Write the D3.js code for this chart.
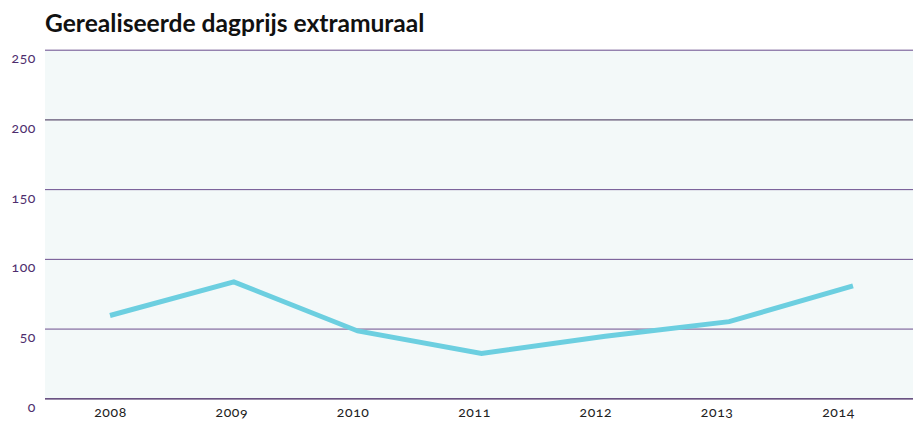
<!DOCTYPE html>
<html>
<head>
<meta charset="utf-8">
<script src="https://cdn.jsdelivr.net/npm/d3@7"></script>
<style>
  html, body { margin: 0; padding: 0; background: #fff; }
  svg { display: block; }
  .num { font-variant-numeric: oldstyle-nums; font-feature-settings: "onum" 1; }
</style>
</head>
<body>
<svg id="chart" width="913" height="421"></svg>
<script>
const title = "Gerealiseerde dagprijs extramuraal";
const years = ["2008", "2009", "2010", "2011", "2012", "2013", "2014"];
const values = [59.4, 83.5, 48.3, 32.1, 44.5, 55, 80.6];
const yTicks = [0, 50, 100, 150, 200, 250];

const W = 913, H = 421;
const plot = { left: 45, right: 913, top: 49.7, bottom: 398.3 };

const svg = d3.select("#chart");

const y = d3.scaleLinear().domain([0, 250]).range([plot.bottom, plot.top]);
const xLine = d3.scalePoint().domain(years).range([110, 853]);
const xLabel = d3.scalePoint().domain(years).range([110, 838]);

// plot background
svg.append("rect")
  .attr("x", plot.left).attr("y", plot.top)
  .attr("width", plot.right - plot.left).attr("height", plot.bottom - plot.top)
  .attr("fill", "#f3f9f9");

// title
svg.append("text")
  .attr("x", 45).attr("y", 32)
  .attr("font-family", "Lato, 'Open Sans', sans-serif")
  .attr("font-weight", "bold")
  .attr("font-size", 24.6)
  .attr("fill", "#111")
  .text(title);

// grid lines via axis
const yAxis = d3.axisLeft(y).tickValues(yTicks).tickSize(-(plot.right - plot.left)).tickFormat(d3.format("d"));
const gy = svg.append("g").attr("transform", `translate(${plot.left},0)`).call(yAxis);
gy.select(".domain").remove();
gy.selectAll(".tick line")
  .attr("stroke", d => d === 0 ? "#3a1a5a" : (d === 200 ? "#3b2a52" : "#6b4e8e"))
  .attr("stroke-width", d => d === 0 ? 1.2 : 1);
gy.selectAll(".tick text")
  .attr("class", "num")
  .attr("x", -9).attr("y", 13).attr("dy", 0)
  .attr("font-family", "Lato, 'Open Sans', sans-serif")
  .attr("font-size", 14)
  .attr("letter-spacing", 0.6)
  .attr("fill", "#4e2d6e")
  .attr("text-anchor", "end");

// x axis labels
const xAxis = d3.axisBottom(xLabel).tickSize(0).tickPadding(0);
const gx = svg.append("g").attr("transform", `translate(0,${plot.bottom})`).call(xAxis);
gx.select(".domain").remove();
gx.selectAll(".tick text")
  .attr("class", "num")
  .attr("y", 19).attr("dy", 0)
  .attr("font-family", "Lato, 'Open Sans', sans-serif")
  .attr("font-size", 14)
  .attr("letter-spacing", 0.6)
  .attr("fill", "#222");

// line
const line = d3.line().x((d, i) => xLine(years[i])).y(d => y(d));
svg.append("path")
  .datum(values)
  .attr("d", line)
  .attr("fill", "none")
  .attr("stroke", "#6ccfe0")
  .attr("stroke-width", 5)
  .attr("stroke-linejoin", "miter");
</script>
</body>
</html>
